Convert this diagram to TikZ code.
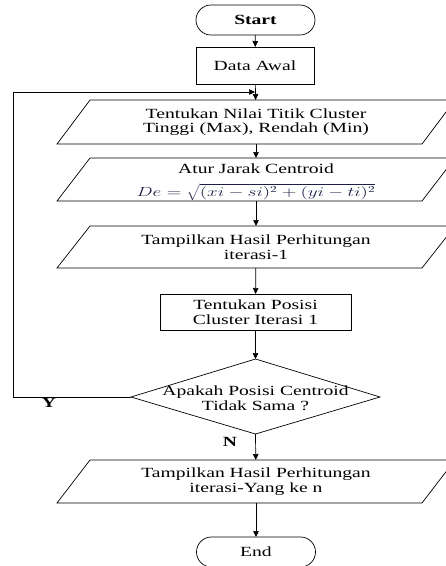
\documentclass[tikz,border=0pt]{standalone}
\usepackage{graphicx}
\usepackage{fontspec}
\setmainfont{Liberation Serif}[FakeStretch=1.4]
\usetikzlibrary{arrows.meta}
\definecolor{formulanavy}{RGB}{28,32,70}
\newcommand\drawpara[1]{\draw[shapeline] ([xshift=-16.5pt]#1.south west) -- ([xshift=-16.5pt]#1.south east) -- ([xshift=16.5pt]#1.north east) -- ([xshift=16.5pt]#1.north west) -- cycle;}
\begin{document}
\begin{tikzpicture}[x=1pt,y=-1pt,
  every node/.style={font=\fontsize{14}{14.5}\selectfont, align=center, inner sep=0pt, outer sep=0pt},
  shapeline/.style={draw=black, line width=0.7pt},
  terminal/.style={shapeline, rectangle, rounded corners=15pt, minimum width=119pt, minimum height=30pt},
  procbox/.style={shapeline, rectangle},
  parabox/.style={rectangle, minimum width=365pt},
  arr/.style={line width=0.7pt, -{Triangle[length=6pt,width=5.5pt]}},
  lbl/.style={font=\fontsize{14}{14.5}\selectfont\bfseries}
]
\useasboundingbox (0,0) rectangle (446,566);
% nodes
\node[terminal, font=\fontsize{14}{14.5}\selectfont\bfseries] (start) at (255.5,20) {Start};
\node[procbox, minimum width=118pt, minimum height=37pt] (data) at (255,65.5) {Data Awal};
\node[parabox, minimum height=44pt] (p1) at (256,122) {Tentukan Nilai Titik Cluster\\Tinggi (Max), Rendah (Min)};
\node[parabox, minimum height=43pt] (p2) at (256,179.5) {};
\node (p2a) at (256,168.5) {Atur Jarak Centroid};
\node[text=formulanavy] (p2b) at (256,192.5) {\scalebox{1.33}[0.92]{$De=\sqrt{(xi-si)^2+(yi-ti)^2}$}};
\node[parabox, minimum height=42pt] (p3) at (256,247) {Tampilkan Hasil Perhitungan\\iterasi-1};
\node[procbox, minimum width=191pt, minimum height=36pt] (pos) at (255.5,312) {Tentukan Posisi\\Cluster Iterasi 1};
\node (dec) at (255.5,398) {Apakah Posisi Centroid\\Tidak Sama ?};
\node[parabox, minimum height=43pt] (p4) at (256,481.5) {Tampilkan Hasil Perhitungan\\iterasi-Yang ke n};
\node[terminal] (end) at (256,552) {End};
% diamond corners
\coordinate (dtop) at (255.5,359);
\coordinate (dleft) at (131,397);
\coordinate (dright) at (380,397);
\coordinate (dbot) at (255.5,434);
\draw[shapeline] (dtop) -- (dright) -- (dbot) -- (dleft) -- cycle;
% parallelograms
\drawpara{p1}
\drawpara{p2}
\drawpara{p3}
\drawpara{p4}
% loop corners
\coordinate (lc1) at (13,397);
\coordinate (lc2) at (13,92);
\coordinate (join) at (255.5,92);
% connectors
\draw[arr] (start) -- (data);
\draw[arr] (data) -- (p1);
\draw[arr] (p1) -- (p2);
\draw[arr] (p2) -- (p3);
\draw[arr] (p3) -- (pos);
\draw[arr] (pos) -- (dtop);
\draw[arr] (dbot) -- (p4);
\draw[arr] (p4) -- (end);
\draw[arr] (dleft) -- (lc1) -- (lc2) -- ([xshift=-0.5pt]join);
% labels
\node[lbl] (ylab) at (49,403) {Y};
\node[lbl] (nlab) at (230,442) {N};
\end{tikzpicture}
\end{document}
